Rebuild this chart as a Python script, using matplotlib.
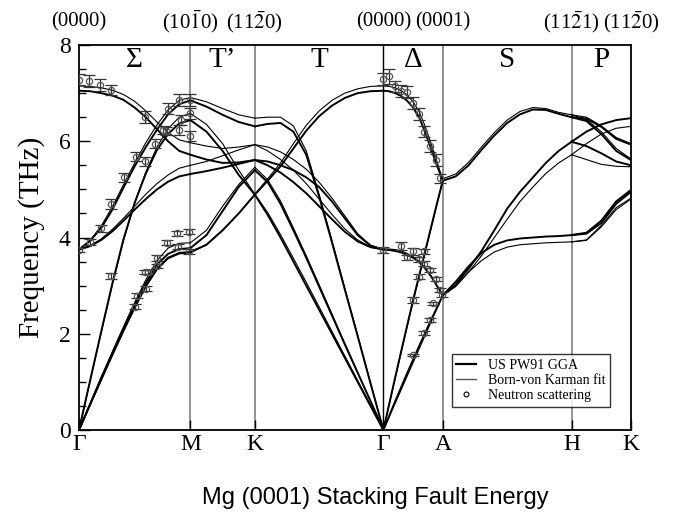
import numpy as np
import matplotlib.pyplot as plt
from matplotlib.lines import Line2D

plt.rcParams['font.family'] = 'Liberation Serif'
plt.rcParams['mathtext.fontset'] = 'stix'

# high symmetry points along the path (units of 2*pi/a)
point_labels = ['Γ', 'M', 'K', 'Γ', 'A', 'H', 'K']
point_k = [0.0, 0.577, 0.911, 1.577, 1.885, 2.552, 2.860]
top_labels = ['(0000)', r'(10$\mathrm{\bar{1}}$0)', r'(11$\mathrm{\bar{2}}$0)', '(0000)',
              '(0001)', r'(11$\mathrm{\bar{2}}$1)', r'(11$\mathrm{\bar{2}}$0)']
region_labels = ['Σ', 'T’', 'T', 'Δ', 'S', 'P']

# ---- calculated branches, per segment (zeta = fraction along segment) ----
z11 = [0, .1, .2, .3, .4, .5, .6, .7, .8, .9, 1]
z5 = [0, .25, .5, .75, 1]

# Gamma - M
gm_gga = [
    [0, 0.53, 1.05, 1.57, 2.07, 2.55, 3.0, 3.35, 3.58, 3.68, 3.70],
    [0, 0.54, 1.08, 1.60, 2.11, 2.60, 3.06, 3.44, 3.66, 3.76, 3.78],
    [0, 1.03, 2.05, 3.05, 3.97, 4.72, 5.33, 5.82, 6.15, 6.37, 6.44],
    [3.75, 3.93, 4.20, 4.58, 5.04, 5.48, 5.88, 6.24, 6.56, 6.77, 6.85],
    [3.75, 3.82, 3.95, 4.13, 4.35, 4.58, 4.80, 5.00, 5.16, 5.27, 5.32],
    [7.05, 7.04, 7.00, 6.95, 6.86, 6.70, 6.50, 6.25, 6.00, 5.80, 5.72],
]
gm_bvk = [
    [0, 0.52, 1.04, 1.55, 2.05, 2.53, 2.97, 3.33, 3.56, 3.66, 3.68],
    [0, 0.55, 1.10, 1.63, 2.15, 2.65, 3.12, 3.52, 3.78, 3.88, 3.89],
    [0, 1.02, 2.03, 3.02, 3.94, 4.72, 5.36, 5.88, 6.26, 6.50, 6.58],
    [3.75, 3.94, 4.24, 4.64, 5.10, 5.55, 5.97, 6.34, 6.65, 6.85, 6.91],
    [3.75, 3.83, 3.97, 4.17, 4.40, 4.65, 4.90, 5.12, 5.30, 5.44, 5.50],
    [7.15, 7.14, 7.11, 7.06, 6.97, 6.83, 6.63, 6.40, 6.18, 6.03, 5.97],
]

# M - K
mk_gga = [
    [6.85, 6.72, 6.55, 6.40, 6.31],
    [6.44, 6.20, 5.80, 5.30, 4.89],
    [5.72, 5.62, 5.55, 5.56, 5.61],
    [5.32, 5.38, 5.45, 5.53, 5.61],
    [3.78, 4.05, 4.55, 5.05, 5.40],
    [3.70, 3.85, 4.15, 4.50, 4.89],
]
mk_bvk = [
    [6.91, 6.82, 6.68, 6.55, 6.48],
    [6.58, 6.35, 5.95, 5.40, 4.90],
    [5.97, 5.90, 5.85, 5.88, 5.93],
    [5.50, 5.58, 5.70, 5.82, 5.93],
    [3.89, 4.15, 4.65, 5.10, 5.46],
    [3.68, 3.85, 4.15, 4.50, 4.90],
]

# K - Gamma
kg_gga = [
    [4.89, 5.18, 5.48, 5.85, 6.22, 6.52, 6.74, 6.90, 7.00, 7.04, 7.05],
    [4.89, 4.47, 4.00, 3.50, 3.00, 2.50, 2.00, 1.50, 1.00, 0.50, 0],
    [5.40, 5.15, 4.70, 4.15, 3.58, 2.98, 2.38, 1.78, 1.19, 0.60, 0],
    [6.31, 6.36, 6.38, 6.20, 5.72, 4.85, 3.90, 2.92, 1.95, 0.97, 0],
    [5.61, 5.50, 5.35, 5.15, 4.92, 4.65, 4.38, 4.12, 3.92, 3.80, 3.75],
    [5.61, 5.58, 5.50, 5.40, 5.25, 5.05, 4.75, 4.40, 4.05, 3.83, 3.75],
]
kg_bvk = [
    [4.90, 5.22, 5.55, 5.95, 6.33, 6.63, 6.85, 7.00, 7.09, 7.14, 7.15],
    [4.90, 4.52, 4.06, 3.57, 3.07, 2.56, 2.05, 1.54, 1.03, 0.52, 0],
    [5.46, 5.20, 4.76, 4.20, 3.62, 3.02, 2.41, 1.80, 1.20, 0.60, 0],
    [6.48, 6.50, 6.50, 6.32, 5.80, 4.90, 3.94, 2.95, 1.97, 0.98, 0],
    [5.93, 5.80, 5.62, 5.40, 5.12, 4.80, 4.48, 4.18, 3.95, 3.80, 3.75],
    [5.93, 5.88, 5.78, 5.62, 5.42, 5.15, 4.82, 4.45, 4.08, 3.84, 3.75],
]

# Gamma - A
ga_gga = [
    [7.05, 7.04, 7.00, 6.94, 6.84, 6.70, 6.50, 6.20, 5.85, 5.50, 5.18],
    [0, 0.55, 1.10, 1.64, 2.17, 2.70, 3.20, 3.70, 4.20, 4.70, 5.18],
    [0, 0.30, 0.60, 0.89, 1.18, 1.46, 1.74, 2.01, 2.28, 2.54, 2.80],
    [3.75, 3.74, 3.72, 3.69, 3.64, 3.58, 3.49, 3.36, 3.20, 3.00, 2.80],
]
ga_bvk = [
    [7.15, 7.14, 7.11, 7.05, 6.96, 6.82, 6.62, 6.32, 5.96, 5.58, 5.20],
    [0, 0.54, 1.08, 1.62, 2.15, 2.67, 3.18, 3.68, 4.18, 4.68, 5.20],
    [0, 0.28, 0.56, 0.84, 1.12, 1.40, 1.68, 1.96, 2.24, 2.52, 2.80],
    [3.76, 3.76, 3.75, 3.72, 3.67, 3.60, 3.50, 3.37, 3.20, 3.00, 2.80],
]

# A - H
ah_gga = [
    [5.18, 5.27, 5.50, 5.82, 6.12, 6.38, 6.56, 6.66, 6.65, 6.57, 6.50],
    [2.80, 3.02, 3.35, 3.72, 4.15, 4.60, 4.95, 5.25, 5.55, 5.80, 5.99],
    [2.80, 3.08, 3.40, 3.68, 3.85, 3.94, 3.98, 4.00, 4.02, 4.03, 4.05],
]
ah_bvk = [
    [5.22, 5.32, 5.56, 5.88, 6.18, 6.44, 6.62, 6.70, 6.68, 6.60, 6.55],
    [2.80, 2.98, 3.28, 3.62, 4.00, 4.38, 4.75, 5.05, 5.33, 5.55, 5.72],
    [2.80, 3.00, 3.28, 3.52, 3.70, 3.80, 3.85, 3.87, 3.89, 3.90, 3.91],
]

# H - K
hk_gga = [
    [6.50, 6.47, 6.30, 6.05, 5.93],
    [6.50, 6.42, 6.15, 5.80, 5.61],
    [5.99, 6.20, 6.35, 6.44, 6.48],
    [5.99, 5.90, 5.75, 5.58, 5.50],
    [4.05, 4.10, 4.35, 4.75, 4.99],
    [4.05, 4.08, 4.30, 4.70, 4.95],
]
hk_bvk = [
    [6.55, 6.50, 6.32, 6.08, 5.95],
    [6.55, 6.45, 6.20, 5.85, 5.63],
    [5.72, 5.95, 6.15, 6.27, 6.31],
    [5.72, 5.62, 5.52, 5.48, 5.47],
    [3.91, 3.95, 4.25, 4.62, 4.82],
    [3.91, 3.94, 4.22, 4.58, 4.80],
]

segments = [
    (0, z11, gm_gga, gm_bvk),
    (1, z5, mk_gga, mk_bvk),
    (2, z11, kg_gga, kg_bvk),
    (3, z11, ga_gga, ga_bvk),
    (4, z11, ah_gga, ah_bvk),
    (5, z5, hk_gga, hk_bvk),
]

# ---- neutron scattering data ----
gm_exp_z = [0.0, 0.09, 0.19, 0.29, 0.59, 0.80, 0.90, 1.0, 1.0, 0.92, 0.90, 1.0, 0.75, 0.78,
            0.68, 0.59, 0.51, 0.40, 0.29, 0.20, 0.10, 0.0,
            0.29, 0.70, 0.59, 0.62, 0.52, 0.50, 0.60, 0.70, 0.79, 0.89, 0.88, 0.99, 0.99]
gm_exp_f = [7.28, 7.25, 7.17, 7.07, 6.50, 6.68, 6.86, 6.86, 6.58, 6.44, 6.24, 6.11, 6.24, 6.22,
            5.95, 5.58, 5.68, 5.25, 4.70, 4.19, 3.91, 3.74,
            3.20, 3.40, 3.29, 3.29, 2.79, 2.56, 2.94, 3.57, 3.89, 3.81, 4.09, 4.12, 3.71]
gm_exp_e = [0.12, 0.12, 0.12, 0.10, 0.12, 0.12, 0.12, 0.12, 0.12, 0.10, 0.10, 0.10, 0.08, 0.08,
            0.10, 0.10, 0.10, 0.10, 0.10, 0.08, 0.06, 0.05,
            0.06, 0.04, 0.04, 0.04, 0.05, 0.05, 0.05, 0.06, 0.05, 0.05, 0.05, 0.05, 0.05]

ga_exp_z = [0.0, 0.10, 0.20, 0.30, 0.39, 0.49, 0.60, 0.69, 0.79, 0.89, 0.96,
            0.0, 0.30, 0.49, 0.40, 0.68, 0.60, 0.68, 0.60, 0.79, 0.89, 0.49, 0.83, 0.95, 0.98,
            0.79, 0.68, 0.49]
ga_exp_f = [7.29, 7.35, 7.14, 7.05, 7.02, 6.79, 6.57, 6.20, 5.90, 5.61, 5.23,
            3.74, 3.83, 3.71, 3.59, 3.71, 3.55, 3.46, 3.19, 3.33, 3.13, 2.70, 2.63, 2.91, 2.81,
            2.29, 2.01, 1.56]
ga_exp_e = [0.12, 0.15, 0.12, 0.12, 0.12, 0.12, 0.12, 0.12, 0.12, 0.12, 0.10,
            0.06, 0.08, 0.08, 0.05, 0.05, 0.05, 0.05, 0.06, 0.04, 0.04, 0.06, 0.04, 0.05, 0.05,
            0.04, 0.04, 0.03]

fig = plt.figure(figsize=(6.78, 5.15), dpi=100)
ax = fig.add_axes([0.1165, 0.165, 0.8142, 0.7476])

for i, zeta, gga, bvk in segments:
    k0, k1 = point_k[i], point_k[i + 1]
    kx = k0 + np.array(zeta) * (k1 - k0)
    for br in bvk:
        ax.plot(kx, br, color='black', lw=0.8, zorder=3)
    for br in gga:
        ax.plot(kx, br, color='black', lw=1.4, zorder=4)

for seg, ez, ef, ee in [(0, gm_exp_z, gm_exp_f, gm_exp_e), (3, ga_exp_z, ga_exp_f, ga_exp_e)]:
    k0, k1 = point_k[seg], point_k[seg + 1]
    kx = k0 + np.array(ez) * (k1 - k0)
    ax.errorbar(kx, ef, yerr=ee, fmt='o', ms=4.5, mfc='none', mec='#555555', mew=0.9,
                ecolor='#333333', elinewidth=0.9, capsize=4.5, capthick=1.0, zorder=5)

for j in [1, 2, 4, 5]:
    ax.axvline(point_k[j], color='#808080', lw=1.2, zorder=1)
ax.axvline(point_k[3], color='black', lw=1.0, zorder=1)

ax.set_xlim(point_k[0], point_k[-1])
ax.set_ylim(0, 8)
ax.set_xticks(point_k)
ax.set_xticklabels(point_labels, fontsize=17)
ax.set_yticks([0, 2, 4, 6, 8])
ax.set_yticks(np.arange(0, 8.01, 0.5), minor=True)
ax.tick_params(axis='y', which='major', direction='in', length=8, width=1, labelsize=17, pad=6,
               right=False)
ax.tick_params(axis='y', which='minor', direction='in', length=5, width=1, right=False)
ax.tick_params(axis='x', which='major', direction='in', length=7, width=1, pad=3, top=False)
ax.tick_params(axis='x', which='minor', bottom=False)
for s in ax.spines.values():
    s.set_linewidth(1.3)

ax.set_ylabel('Frequency (THz)', fontsize=21, labelpad=10)
ax.set_xlabel('Mg (0001) Stacking Fault Energy', fontsize=17, family='Liberation Sans')
ax.xaxis.set_label_coords(0.536, -0.148)

for k, lab in zip(point_k, top_labels):
    ax.text(k, 1.06, lab, transform=ax.get_xaxis_transform(), ha='center', va='center',
            fontsize=15)
for j, lab in enumerate(region_labels):
    ax.text((point_k[j] + point_k[j + 1]) / 2, 0.961, lab, transform=ax.get_xaxis_transform(),
            ha='center', va='center', fontsize=21)

handles = [Line2D([], [], color='black', lw=1.6),
           Line2D([], [], color='#555555', lw=1.0),
           Line2D([], [], ls='none', marker='o', ms=3.5, mfc='none', mec='black', mew=0.8)]
leg = ax.legend(handles, ['US PW91 GGA', 'Born-von Karman fit', 'Neutron scattering'],
                loc='lower right', bbox_to_anchor=(0.962, 0.06), borderaxespad=0, fontsize=10,
                frameon=True, fancybox=False, edgecolor='black', handlelength=1.4,
                labelspacing=0.15, borderpad=0.35, handletextpad=0.85)
leg.get_frame().set_linewidth(1.0)

fig.savefig('out.png', dpi=100)
